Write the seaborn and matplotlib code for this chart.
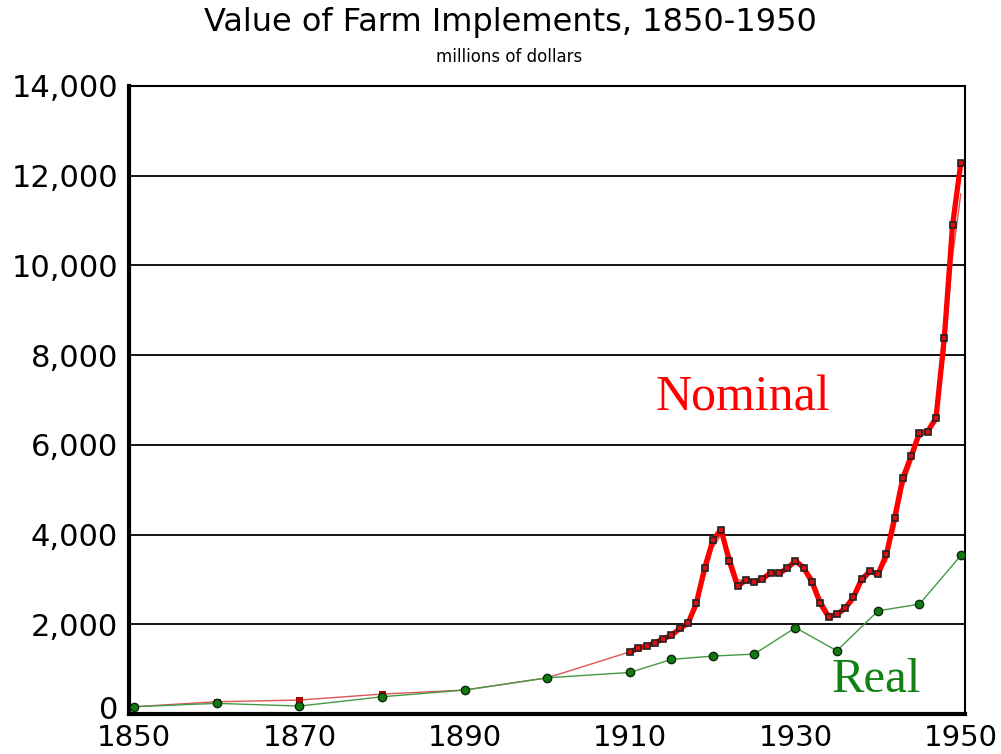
import pandas as pd
import matplotlib.pyplot as plt
import matplotlib.transforms as mtransforms
import seaborn as sns

# Nominal value, annual series (thick line), millions of dollars
nominal_years = list(range(1910, 1951))
nominal_values = [1388, 1463, 1521, 1588, 1677, 1752, 1908, 2020, 2465, 3245,
                  3875, 4113, 3407, 2850, 2984, 2940, 3013, 3147, 3133, 3245,
                  3418, 3258, 2940, 2465, 2167, 2220, 2354, 2599, 3007, 3178,
                  3118, 3563, 4380, 5272, 5753, 6274, 6296, 6608, 8381, 10898,
                  12287]

# Nominal value, alternate series (thin line): decennial then annual
alt_years = [1850, 1860, 1870, 1880, 1890, 1900] + list(range(1910, 1951))
alt_values = [163, 274, 312, 445, 535, 808,
              1388, 1450, 1510, 1575, 1660, 1735, 1870, 1990, 2350, 3050,
              3700, 4000, 3600, 3000, 2960, 2940, 3000, 3120, 3130, 3220,
              3380, 3300, 3050, 2600, 2250, 2200, 2300, 2520, 2900, 3120,
              3130, 3400, 4150, 5050, 5600, 6150, 6290, 6500, 8000, 10200,
              11600]

# Real value
real_years = [1850, 1860, 1870, 1880, 1890, 1900, 1910, 1915, 1920, 1925,
              1930, 1935, 1940, 1945, 1950]
real_values = [163, 238, 178, 385, 535, 808, 928, 1218, 1292, 1336,
               1925, 1410, 2301, 2450, 3534]

x_ticks = [1850, 1870, 1890, 1910, 1930, 1950]
y_ticks = [0, 2000, 4000, 6000, 8000, 10000, 12000, 14000]
y_tick_labels = ['0', '2,000', '4,000', '6,000', '8,000', '10,000', '12,000', '14,000']

sns.set_style('white')
plt.rcParams['font.family'] = ['DejaVu Sans']
plt.rcParams['text.color'] = 'black'
plt.rcParams['xtick.color'] = 'black'
plt.rcParams['ytick.color'] = 'black'

nominal = pd.DataFrame({'Year': nominal_years, 'Value': nominal_values})
alt = pd.DataFrame({'Year': alt_years, 'Value': alt_values})
real = pd.DataFrame({'Year': real_years, 'Value': real_values})

fig = plt.figure(figsize=(10.01, 7.54), dpi=100)
ax = fig.add_axes([0.129, 0.053, 0.835, 0.833])

for y in y_ticks[1:]:
    ax.axhline(y, color='black', linewidth=1.3, zorder=1)

# thin line: markers only on the decennial points
sns.lineplot(data=alt, x='Year', y='Value', ax=ax, color='#dd5555', linewidth=1.0,
             marker='s', markersize=4, markerfacecolor='#cc0000',
             markeredgecolor='#990000', markevery=list(range(6)), zorder=2)
sns.lineplot(data=real, x='Year', y='Value', ax=ax, color='#449944', linewidth=1.0,
             marker='o', markersize=6, markerfacecolor='#117a11',
             markeredgecolor='#0a2a0a', markeredgewidth=1.0, zorder=3)
sns.lineplot(data=nominal, x='Year', y='Value', ax=ax, color='#ff0000', linewidth=3.8,
             marker='s', markersize=5, markerfacecolor='#dd1111',
             markeredgecolor='#222222', markeredgewidth=1.2, zorder=4)

ax.set_xlim(1849.4, 1950.5)
ax.set_ylim(0, 14000)
ax.set_xticks(x_ticks)
ax.set_xticklabels([str(t) for t in x_ticks], fontsize=21)
ax.set_yticks(y_ticks)
ax.set_yticklabels(y_tick_labels, fontsize=22)
ax.tick_params(length=0, pad=8)
ax.tick_params(axis='x', pad=7)
ax.set_xlabel('')
ax.set_ylabel('')

# nudge the "0" label up a little so it clears "1850"
zero_label = ax.get_yticklabels()[0]
zero_label.set_transform(zero_label.get_transform() +
                         mtransforms.ScaledTranslation(0, 5 / 72, fig.dpi_scale_trans))

for side in ['left', 'bottom']:
    ax.spines[side].set_linewidth(3)
for side in ['top', 'right']:
    ax.spines[side].set_linewidth(1.5)
for s in ax.spines.values():
    s.set_color('black')
    s.set_visible(True)

ax.text(1923.6, 7040, 'Nominal', color='#ff0000', fontsize=36,
        family='Liberation Serif', ha='center', va='center')
ax.text(1939.8, 760, 'Real', color='#138013', fontsize=35,
        family='Liberation Serif', ha='center', va='center')

fig.text(0.51, 0.97, 'Value of Farm Implements, 1850-1950', fontsize=23,
         ha='center', va='center')
fig.text(0.509, 0.925, 'millions of dollars', fontsize=12,
         ha='center', va='center')

plt.savefig('out.png', dpi=100)
